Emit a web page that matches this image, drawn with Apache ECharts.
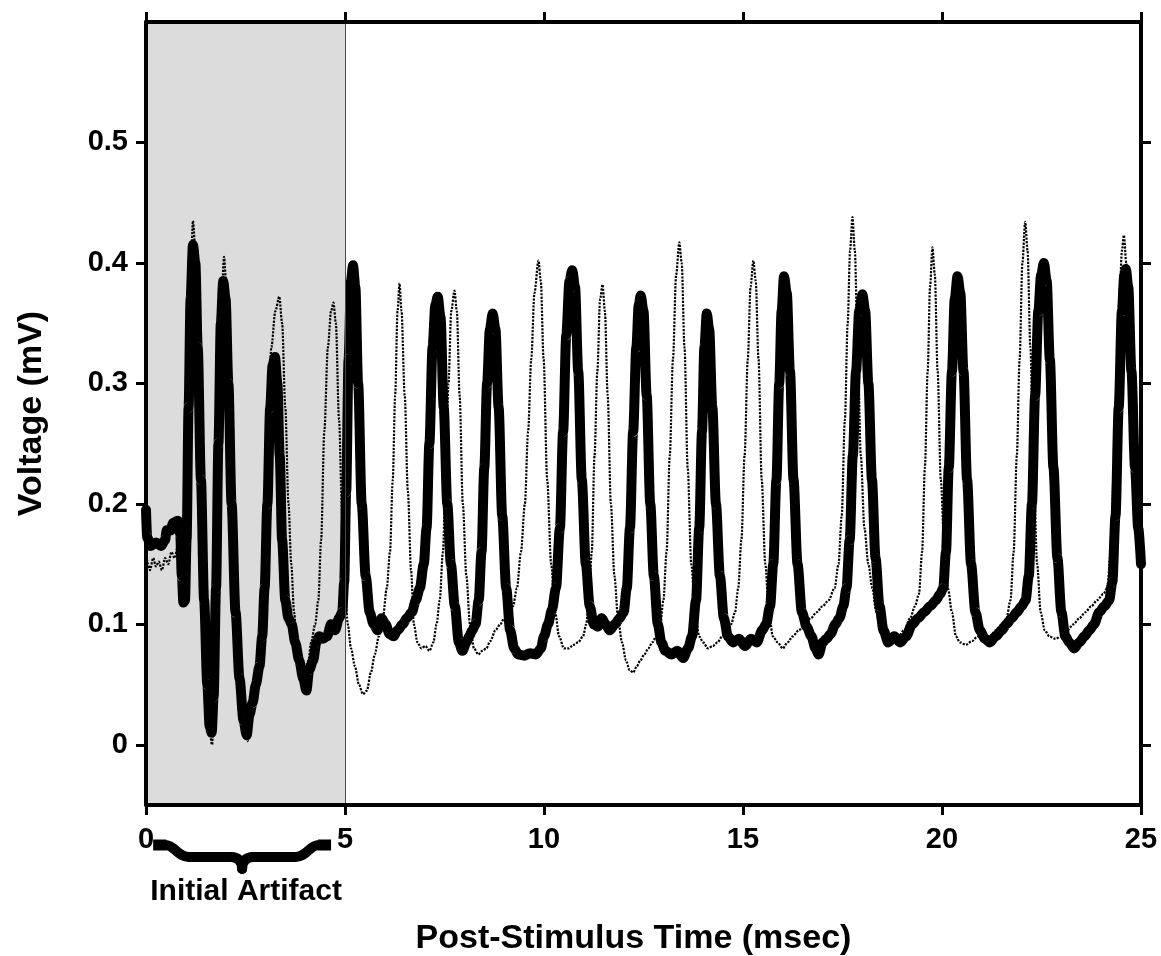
<!DOCTYPE html>
<html><head><meta charset="utf-8">
<script src="https://cdn.jsdelivr.net/npm/echarts@6/dist/echarts.min.js"></script>
<style>html,body{margin:0;padding:0;background:#fff}#c{width:1161px;height:956px}</style>
</head><body><div id="c"></div>
<script>
// ---- data ----
const xTicks = [0, 5, 10, 15, 20, 25];
const yTicks = [0, 0.1, 0.2, 0.3, 0.4, 0.5];
const artifactRange = [0, 5];
const braceRange = [0.18, 4.65];
const braceLabel = 'Initial Artifact';
const xTitle = 'Post-Stimulus Time (msec)';
const yTitle = 'Voltage (mV)';

// thick solid trace [time ms, voltage mV]
const solidTrace = [
[0.00,0.195],[0.03,0.172],[0.12,0.165],[0.25,0.168],[0.38,0.165],[0.48,0.17],[0.52,0.178],[0.62,0.178],
[0.68,0.184],[0.80,0.186],[0.86,0.175],[0.90,0.14],[0.94,0.118],[0.98,0.12],[1.02,0.17],[1.07,0.28],
[1.12,0.37],[1.18,0.415],[1.24,0.40],[1.30,0.33],[1.38,0.22],[1.46,0.12],[1.54,0.05],[1.60,0.015],
[1.65,0.01],[1.70,0.04],[1.76,0.13],[1.82,0.25],[1.88,0.35],[1.94,0.385],[2.00,0.37],[2.07,0.30],
[2.15,0.20],[2.25,0.11],[2.35,0.055],[2.45,0.02],[2.53,0.008],[2.60,0.025],[2.68,0.035],[2.76,0.05],
[2.85,0.065],[2.92,0.09],[2.98,0.13],[3.05,0.20],[3.12,0.28],[3.18,0.315],[3.24,0.322],[3.30,0.30],
[3.36,0.24],[3.42,0.17],[3.50,0.12],[3.58,0.105],[3.66,0.10],[3.75,0.085],[3.85,0.07],[3.95,0.055],
[4.03,0.045],[4.10,0.062],[4.20,0.07],[4.28,0.085],[4.35,0.09],[4.45,0.088],[4.55,0.09],[4.65,0.10],
[4.75,0.095],[4.85,0.105],[4.93,0.11],[4.98,0.135],[5.03,0.21],[5.09,0.32],[5.15,0.385],[5.20,0.398],
[5.26,0.38],[5.33,0.30],[5.42,0.20],[5.52,0.14],[5.62,0.11],[5.72,0.10],[5.82,0.095],[5.92,0.105],
[6.02,0.10],[6.12,0.092],[6.22,0.09],[6.32,0.095],[6.45,0.10],[6.55,0.105],[6.68,0.11],[6.78,0.12],
[6.88,0.13],[6.98,0.15],[7.05,0.18],[7.12,0.25],[7.20,0.33],[7.27,0.365],[7.33,0.372],[7.40,0.355],
[7.48,0.28],[7.57,0.20],[7.66,0.15],[7.76,0.115],[7.86,0.085],[7.95,0.078],[8.05,0.085],[8.12,0.09],
[8.20,0.095],[8.28,0.10],[8.36,0.12],[8.43,0.16],[8.50,0.23],[8.57,0.30],[8.64,0.345],[8.71,0.358],
[8.78,0.345],[8.86,0.28],[8.95,0.19],[9.05,0.13],[9.15,0.095],[9.25,0.08],[9.35,0.075],[9.50,0.074],
[9.65,0.076],[9.80,0.075],[9.92,0.08],[10.00,0.09],[10.10,0.10],[10.20,0.112],[10.30,0.13],[10.40,0.18],
[10.48,0.26],[10.56,0.34],[10.64,0.385],[10.71,0.394],[10.78,0.38],[10.86,0.31],[10.95,0.22],[11.05,0.15],
[11.15,0.115],[11.25,0.10],[11.35,0.098],[11.45,0.105],[11.55,0.10],[11.65,0.095],[11.78,0.10],[11.90,0.105],
[12.00,0.11],[12.08,0.13],[12.16,0.18],[12.24,0.26],[12.32,0.33],[12.38,0.365],[12.43,0.373],[12.50,0.36],
[12.58,0.29],[12.67,0.20],[12.76,0.14],[12.86,0.10],[12.95,0.085],[13.05,0.078],[13.20,0.075],[13.35,0.078],
[13.50,0.072],[13.62,0.08],[13.72,0.09],[13.82,0.12],[13.90,0.18],[13.97,0.26],[14.03,0.33],[14.09,0.358],
[14.15,0.345],[14.23,0.28],[14.32,0.20],[14.42,0.14],[14.52,0.105],[14.62,0.09],[14.75,0.085],[14.90,0.088],
[15.05,0.082],[15.20,0.088],[15.35,0.085],[15.48,0.095],[15.58,0.10],[15.68,0.115],[15.76,0.15],[15.84,0.22],
[15.91,0.30],[15.97,0.36],[16.03,0.389],[16.10,0.375],[16.18,0.31],[16.27,0.22],[16.37,0.15],[16.48,0.11],
[16.60,0.098],[16.72,0.09],[16.82,0.08],[16.90,0.075],[17.00,0.085],[17.10,0.088],[17.20,0.092],[17.32,0.10],
[17.42,0.105],[17.52,0.115],[17.60,0.13],[17.68,0.17],[17.76,0.24],[17.84,0.31],[17.92,0.36],[18.00,0.374],
[18.07,0.36],[18.15,0.30],[18.24,0.22],[18.33,0.155],[18.43,0.115],[18.53,0.095],[18.65,0.085],[18.80,0.09],
[18.95,0.085],[19.10,0.09],[19.25,0.10],[19.40,0.105],[19.55,0.11],[19.70,0.115],[19.85,0.12],[19.95,0.125],
[20.03,0.13],[20.10,0.16],[20.17,0.23],[20.25,0.31],[20.32,0.37],[20.39,0.389],[20.46,0.375],[20.54,0.31],
[20.63,0.22],[20.73,0.15],[20.84,0.11],[20.95,0.095],[21.08,0.088],[21.20,0.085],[21.35,0.09],[21.50,0.095],
[21.62,0.10],[21.75,0.105],[21.88,0.11],[22.00,0.115],[22.10,0.12],[22.18,0.14],[22.26,0.20],[22.34,0.29],
[22.42,0.36],[22.49,0.39],[22.56,0.40],[22.63,0.385],[22.71,0.32],[22.80,0.23],[22.90,0.155],[23.00,0.11],
[23.10,0.09],[23.20,0.085],[23.32,0.08],[23.45,0.085],[23.58,0.09],[23.70,0.095],[23.82,0.10],[23.95,0.11],
[24.08,0.115],[24.20,0.12],[24.28,0.135],[24.36,0.19],[24.44,0.28],[24.52,0.36],[24.58,0.39],[24.62,0.395],
[24.68,0.38],[24.76,0.31],[24.85,0.23],[24.93,0.18],[25.00,0.15]
];

// thin dotted trace [time ms, voltage mV]
const dottedTrace = [
[0.00,0.16],[0.05,0.15],[0.10,0.145],[0.18,0.155],[0.25,0.148],[0.32,0.152],[0.40,0.145],[0.48,0.155],
[0.56,0.15],[0.64,0.16],[0.72,0.155],[0.80,0.165],[0.86,0.16],[0.90,0.14],[0.94,0.12],[0.98,0.12],
[1.02,0.18],[1.07,0.30],[1.12,0.39],[1.18,0.435],[1.24,0.41],[1.30,0.34],[1.38,0.22],[1.46,0.12],
[1.54,0.05],[1.60,0.01],[1.66,0.0],[1.72,0.04],[1.78,0.15],[1.84,0.27],[1.90,0.37],[1.96,0.405],
[2.02,0.38],[2.09,0.30],[2.17,0.20],[2.27,0.11],[2.37,0.05],[2.47,0.015],[2.55,0.003],[2.62,0.02],
[2.70,0.04],[2.78,0.06],[2.85,0.08],[2.90,0.10],[2.97,0.17],[3.05,0.25],[3.15,0.33],[3.25,0.36],
[3.35,0.372],[3.42,0.35],[3.50,0.28],[3.58,0.20],[3.65,0.15],[3.72,0.11],[3.80,0.08],[3.90,0.065],
[4.00,0.06],[4.08,0.07],[4.15,0.085],[4.25,0.10],[4.33,0.12],[4.40,0.17],[4.48,0.26],[4.57,0.33],
[4.65,0.36],[4.71,0.367],[4.77,0.35],[4.85,0.27],[4.93,0.19],[5.00,0.13],[5.07,0.10],[5.15,0.08],
[5.25,0.065],[5.35,0.05],[5.45,0.042],[5.55,0.045],[5.65,0.06],[5.75,0.075],[5.85,0.09],[5.95,0.105],
[6.05,0.13],[6.13,0.16],[6.20,0.22],[6.26,0.29],[6.32,0.36],[6.37,0.383],[6.42,0.36],[6.50,0.29],
[6.58,0.21],[6.66,0.145],[6.73,0.10],[6.82,0.085],[6.92,0.08],[7.02,0.082],[7.12,0.078],[7.22,0.085],
[7.30,0.10],[7.38,0.12],[7.46,0.16],[7.53,0.22],[7.60,0.30],[7.67,0.36],[7.75,0.377],[7.81,0.36],
[7.88,0.29],[7.96,0.20],[8.05,0.14],[8.14,0.10],[8.24,0.08],[8.35,0.075],[8.45,0.078],[8.55,0.08],
[8.65,0.086],[8.78,0.095],[8.90,0.10],[9.00,0.105],[9.10,0.11],[9.22,0.115],[9.32,0.13],[9.42,0.16],
[9.52,0.20],[9.60,0.26],[9.68,0.32],[9.76,0.375],[9.86,0.402],[9.92,0.385],[9.99,0.32],[10.08,0.22],
[10.18,0.15],[10.28,0.11],[10.38,0.09],[10.50,0.08],[10.62,0.08],[10.74,0.083],[10.86,0.085],[10.98,0.09],
[11.06,0.10],[11.13,0.12],[11.20,0.16],[11.27,0.24],[11.34,0.31],[11.41,0.37],[11.47,0.382],[11.53,0.36],
[11.60,0.29],[11.68,0.20],[11.77,0.14],[11.86,0.105],[11.96,0.085],[12.06,0.07],[12.15,0.062],[12.24,0.06],
[12.33,0.065],[12.42,0.07],[12.52,0.075],[12.62,0.08],[12.72,0.085],[12.82,0.09],[12.92,0.10],[13.00,0.12],
[13.08,0.16],[13.16,0.24],[13.24,0.32],[13.32,0.39],[13.40,0.417],[13.46,0.40],[13.53,0.33],[13.61,0.23],
[13.70,0.15],[13.80,0.11],[13.90,0.09],[14.00,0.085],[14.12,0.08],[14.24,0.082],[14.36,0.085],[14.48,0.09],
[14.60,0.095],[14.70,0.10],[14.80,0.11],[14.88,0.13],[14.96,0.17],[15.04,0.24],[15.12,0.32],[15.19,0.38],
[15.26,0.402],[15.32,0.385],[15.39,0.32],[15.47,0.22],[15.56,0.15],[15.65,0.11],[15.75,0.09],[15.87,0.085],
[16.00,0.08],[16.12,0.085],[16.25,0.09],[16.40,0.095],[16.55,0.10],[16.70,0.105],[16.85,0.11],[17.00,0.115],
[17.15,0.12],[17.30,0.13],[17.40,0.15],[17.48,0.19],[17.56,0.27],[17.63,0.35],[17.69,0.41],[17.75,0.438],
[17.81,0.41],[17.88,0.33],[17.96,0.24],[18.05,0.18],[18.15,0.15],[18.25,0.13],[18.35,0.11],[18.45,0.095],
[18.60,0.088],[18.75,0.085],[18.90,0.09],[19.05,0.095],[19.20,0.105],[19.32,0.115],[19.42,0.125],[19.50,0.16],
[19.57,0.23],[19.64,0.31],[19.70,0.38],[19.76,0.413],[19.82,0.39],[19.89,0.31],[19.97,0.22],[20.06,0.16],
[20.15,0.13],[20.25,0.11],[20.35,0.09],[20.45,0.085],[20.60,0.083],[20.75,0.086],[20.90,0.09],[21.05,0.088],
[21.20,0.09],[21.35,0.095],[21.50,0.10],[21.62,0.105],[21.72,0.12],[21.80,0.16],[21.88,0.24],[21.95,0.32],
[22.02,0.40],[22.09,0.434],[22.15,0.41],[22.22,0.33],[22.30,0.23],[22.39,0.15],[22.48,0.11],[22.58,0.095],
[22.70,0.09],[22.85,0.088],[23.00,0.09],[23.15,0.095],[23.30,0.10],[23.45,0.105],[23.60,0.11],[23.75,0.115],
[23.90,0.12],[24.05,0.125],[24.15,0.13],[24.24,0.16],[24.32,0.23],[24.40,0.31],[24.47,0.38],[24.52,0.41],
[24.57,0.423],[24.63,0.40],[24.70,0.33],[24.78,0.25],[24.87,0.19],[24.95,0.165],[25.00,0.16]
];

// ---- chart ----
const FONT = '"Liberation Sans", Arial, Helvetica, sans-serif';
const chart = echarts.init(document.getElementById('c'), null, {renderer: 'canvas'});
const axisLine = {show: true, onZero: false, lineStyle: {color: '#000', width: 4}};
const tick = {show: true, inside: false, length: 10, lineStyle: {color: '#000', width: 3}};
const labelStyle = {color: '#000', fontFamily: FONT, fontWeight: 'bold', fontSize: 29};
const titleStyle = {color: '#000', fontFamily: FONT, fontWeight: 'bold', fontSize: 34};

const option = {
  animation: false,
  backgroundColor: '#fff',
  grid: {left: 146, right: 20, top: 22, bottom: 151, containLabel: false, outerBoundsMode: 'none'},
  xAxis: [
    {type: 'value', position: 'bottom', min: xTicks[0], max: xTicks[xTicks.length - 1], interval: 5, z: 5,
     axisLine, axisTick: tick, splitLine: {show: false},
     axisLabel: Object.assign({margin: 20}, labelStyle),
     name: xTitle, nameLocation: 'middle', nameGap: 117,
     nameTextStyle: Object.assign({padding: [0, 20, 0, 0]}, titleStyle)},
    {type: 'value', position: 'top', min: xTicks[0], max: xTicks[xTicks.length - 1], interval: 5, z: 5,
     axisLine, axisTick: tick, splitLine: {show: false}, axisLabel: {show: false}}
  ],
  yAxis: [
    {type: 'value', position: 'left', min: -0.05, max: 0.6, z: 5,
     axisLine, axisTick: Object.assign({customValues: yTicks}, tick), splitLine: {show: false},
     axisLabel: Object.assign({margin: 18, customValues: yTicks}, labelStyle),
     name: yTitle, nameLocation: 'middle', nameGap: 97,
     nameTextStyle: titleStyle},
    {type: 'value', position: 'right', min: -0.05, max: 0.6, z: 5,
     axisLine, axisTick: Object.assign({customValues: yTicks}, tick), splitLine: {show: false},
     axisLabel: {show: false, customValues: yTicks}}
  ],
  series: [
    {type: 'line', z: 1, data: [[artifactRange[0], 0], [artifactRange[1], 0]], showSymbol: false, silent: true,
     lineStyle: {opacity: 0, width: 0},
     markArea: {silent: true, itemStyle: {color: '#dcdcdc', borderWidth: 0},
                data: [[{xAxis: artifactRange[0]}, {xAxis: artifactRange[1]}]]},
     markLine: {silent: true, symbol: ['none', 'none'], label: {show: false},
                lineStyle: {color: '#4a4a4a', width: 1, type: 'solid'},
                data: [{xAxis: artifactRange[1]}]}},
    {type: 'line', z: 2, data: dottedTrace, showSymbol: false, smooth: 0.3, smoothMonotone: 'x',
     lineStyle: {color: '#000', width: 2.2, type: [2.2, 1.3]}},
    {type: 'line', z: 3, data: solidTrace, showSymbol: false, smooth: 0.3, smoothMonotone: 'x',
     lineStyle: {color: '#000', width: 10, cap: 'round', join: 'round'}}
  ]
};
chart.setOption(option);

// brace + label under the x axis (positions derived from the axis scale)
function drawBrace() {
  const pL = chart.convertToPixel({xAxisIndex: 0, yAxisIndex: 0}, [braceRange[0], -0.05]);
  const pR = chart.convertToPixel({xAxisIndex: 0, yAxisIndex: 0}, [braceRange[1], -0.05]);
  const x0 = pL[0], x1 = pR[0], y0 = pL[1] + 40;
  const w = x1 - x0, m = w / 2;
  const st = {stroke: '#000', lineWidth: 10, lineCap: 'round', fill: null};
  const stEnd = {stroke: '#000', lineWidth: 11, lineCap: 'butt', fill: null};
  const seg = (a, b, c, d, s) => ({type: 'line', shape: {x1: a, y1: b, x2: c, y2: d}, style: s || st});
  const bez = (a, b, c1, c2, c3, c4, c, d) => ({type: 'bezierCurve',
      shape: {x1: a, y1: b, cpx1: c1, cpy1: c2, cpx2: c3, cpy2: c4, x2: c, y2: d}, style: st});
  chart.setOption({graphic: [
    {type: 'group', x: x0, y: y0, z: 10, children: [
      seg(0, 0, 13, 0, stEnd),
      bez(12, 0, 22, 0, 24, 12, 36, 12),
      seg(36, 12, m - 11, 12),
      bez(m - 11, 12, m - 4, 12, m, 16, m, 24),
      bez(m, 24, m, 16, m + 4, 12, m + 11, 12),
      seg(m + 11, 12, w - 36, 12),
      bez(w - 36, 12, w - 24, 12, w - 22, 0, w - 12, 0),
      seg(w - 13, 0, w, 0, stEnd)
    ]},
    {type: 'text', x: x0 + m + 4, y: y0 + 47, z: 10,
     style: {text: braceLabel, fill: '#000', font: 'bold 30px ' + FONT, textAlign: 'center', textVerticalAlign: 'middle'}}
  ]});
}
drawBrace();
</script>
</body></html>
